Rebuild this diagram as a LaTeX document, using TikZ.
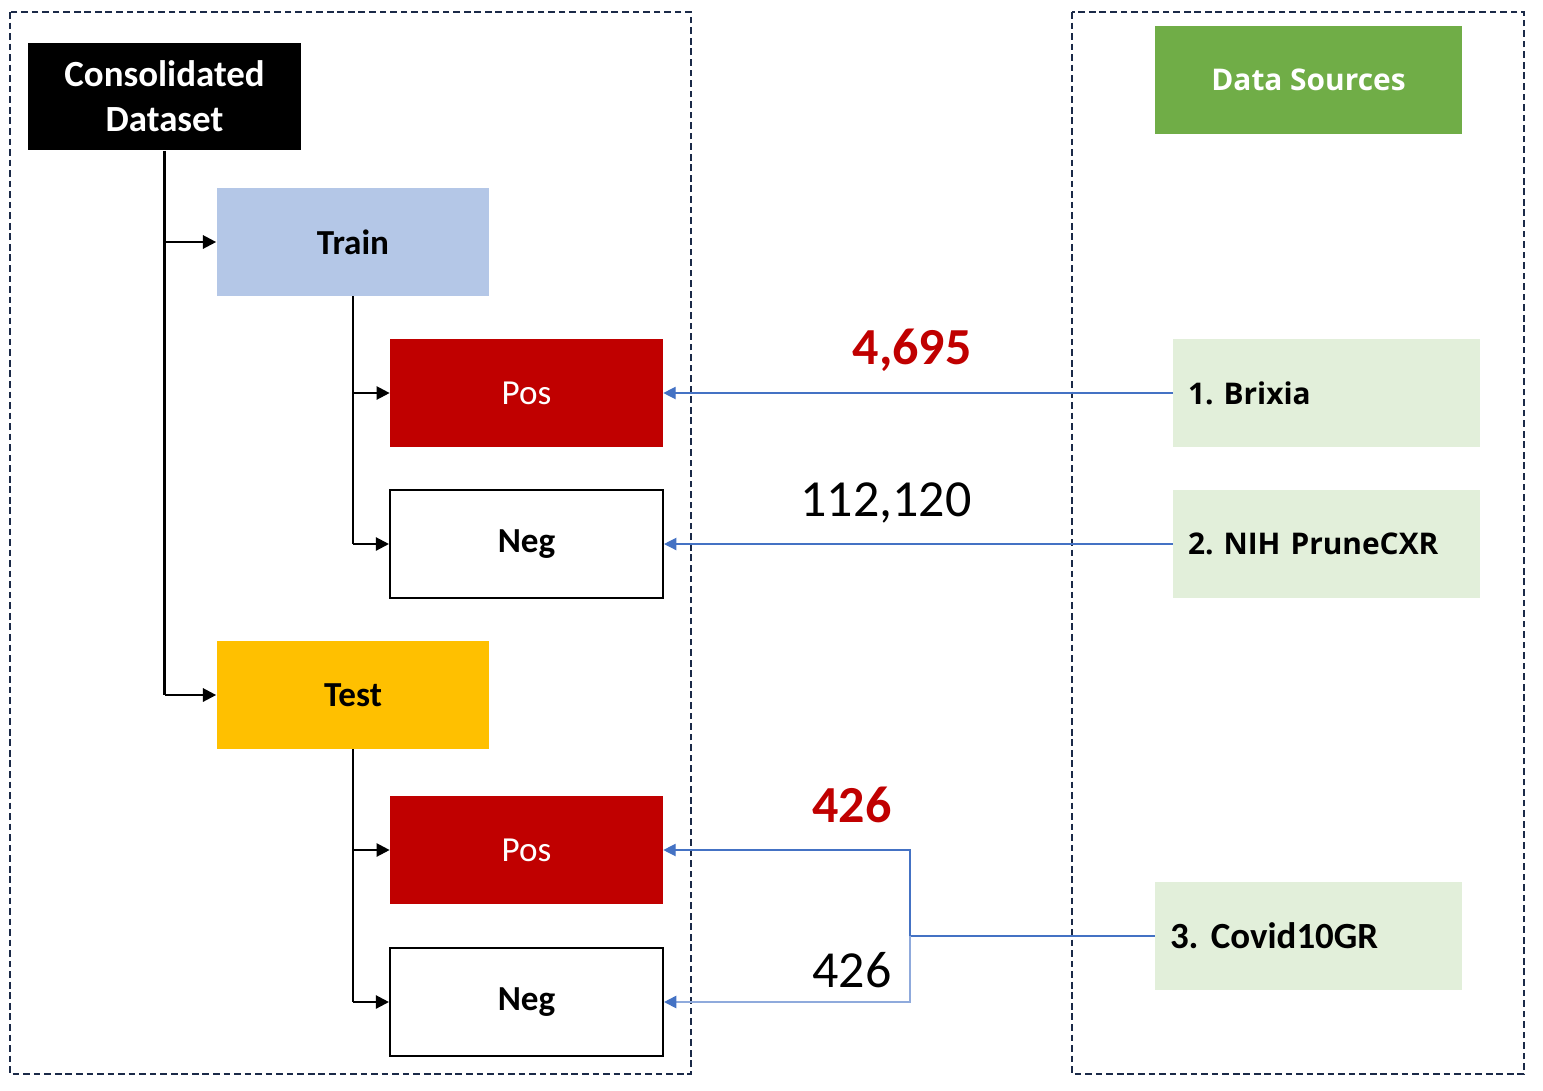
\documentclass[tikz,border=0pt]{standalone}
\usepackage{fontspec}
\setmainfont{Carlito}
\newfontfamily\srcfont{Open Sans}
\usetikzlibrary{arrows.meta}
\definecolor{frameblue}{HTML}{1B2A48}
\definecolor{linkblue}{HTML}{4472C4}
\definecolor{linklight}{HTML}{8FAADC}
\definecolor{posred}{HTML}{C00000}
\definecolor{trainblue}{HTML}{B4C7E7}
\definecolor{testyellow}{HTML}{FFC000}
\definecolor{srcgreen}{HTML}{70AD47}
\definecolor{srclight}{HTML}{E2EFDA}
\frenchspacing
\begin{document}
\begin{tikzpicture}[x=0.02cm, y=-0.02cm,
  split/.style={
    minimum width=5.46cm,
    minimum height=2.16cm,
    inner sep=0pt,
    align=center,
    fill=#1,
    font=\fontsize{20}{25}\selectfont\bfseries
  },
  source/.style={
    text width=5.54cm,
    minimum height=2.16cm,
    inner xsep=0.3cm,
    align=left,
    fill=srclight,
    font=\fontsize{17}{21}\selectfont\srcfont\bfseries
  },
  num/.style={anchor=east, inner sep=0pt, font=\fontsize{29.6}{34}\selectfont},
  frame/.style={draw=frameblue, line width=1.5pt, dash pattern=on 3.8pt off 2.2pt},
  tree/.style={draw=black, line width=1.3pt},
  treearr/.style={tree, -{Triangle[length=7.5pt, width=7.5pt]}},
  srcarr/.style={draw=linkblue, line width=0.7pt, -{Triangle[length=7pt, width=7pt, color=linkblue]}}
]
  \useasboundingbox (0,0) rectangle (1543,1090);
  % Frames
  \draw[frame] (10,12) rectangle (691,1074);
  \draw[frame] (1072,12) rectangle (1524,1074);
  % Dataset side
  \node[split=black, text=white, font=\fontsize{21}{25.6}\selectfont\bfseries]
        (cons)  at (164.5, 96.5) {Consolidated\\Dataset};
  \node[split=trainblue]  (train) at (353, 242)   {Train};
  \node[split=posred, text=white, font=\fontsize{20}{25}\selectfont]
        (pos1)  at (526.5, 393) {Pos};
  \node[split=white, draw=black, line width=1.2pt]
        (neg1)  at (526.5, 544) {Neg};
  \node[split=testyellow] (test)  at (353, 695)   {Test};
  \node[split=posred, text=white, font=\fontsize{20}{25}\selectfont]
        (pos2)  at (526.5, 850) {Pos};
  \node[split=white, draw=black, line width=1.2pt]
        (neg2)  at (526.5, 1002) {Neg};
  % Sources side
  \node[split=srcgreen, text=white, minimum width=6.14cm, font=\fontsize{17}{21}\selectfont\srcfont\bfseries]
        (src)   at (1308.5, 80) {Data Sources};
  \node[source] (brixia) at (1326.5, 393) {1. Brixia};
  \node[source] (nih)    at (1326.5, 544) {2. NIH PruneCXR};
  \node[source, font=\fontsize{21}{25}\selectfont\bfseries]
        (covid)  at (1308.5, 936) {3. Covid10GR};
  % Tree
  \draw[tree] (cons.south) -- (cons.south |- test.west);
  \draw[treearr] (cons.south |- train.west) -- (train.west);
  \draw[treearr] (cons.south |- test.west) -- (test.west);
  \draw[tree] (train.south) -- (train.south |- neg1.west);
  \draw[treearr] (train.south |- pos1.west) -- (pos1.west);
  \draw[treearr] (train.south |- neg1.west) -- (neg1.west);
  \draw[tree] (test.south) -- (test.south |- neg2.west);
  \draw[treearr] (test.south |- pos2.west) -- (pos2.west);
  \draw[treearr] (test.south |- neg2.west) -- (neg2.west);
  % Source links
  \draw[srcarr] (brixia.west) -- (pos1.east);
  \draw[srcarr] (nih.west) -- (neg1.east);
  \coordinate (fork) at (910, 936);
  \draw[linkblue, line width=0.7pt] (covid.west) -- (fork);
  \draw[srcarr] (fork) |- (pos2.east);
  \draw[srcarr, draw=linklight, line width=1pt] (fork) |- (neg2.east);
  % Counts
  \node[num, text=posred, font=\fontsize{29.6}{34}\selectfont\bfseries] (nbrixia) at (972, 350) {4,695};
  \node[num] (nnih) at (972, 503) {112,120};
  \node[num, text=posred, font=\fontsize{29.6}{34}\selectfont\bfseries] (ncovpos) at (892, 805) {426};
  \node[num] (ncovneg) at (892, 970) {426};
\end{tikzpicture}
\end{document}
